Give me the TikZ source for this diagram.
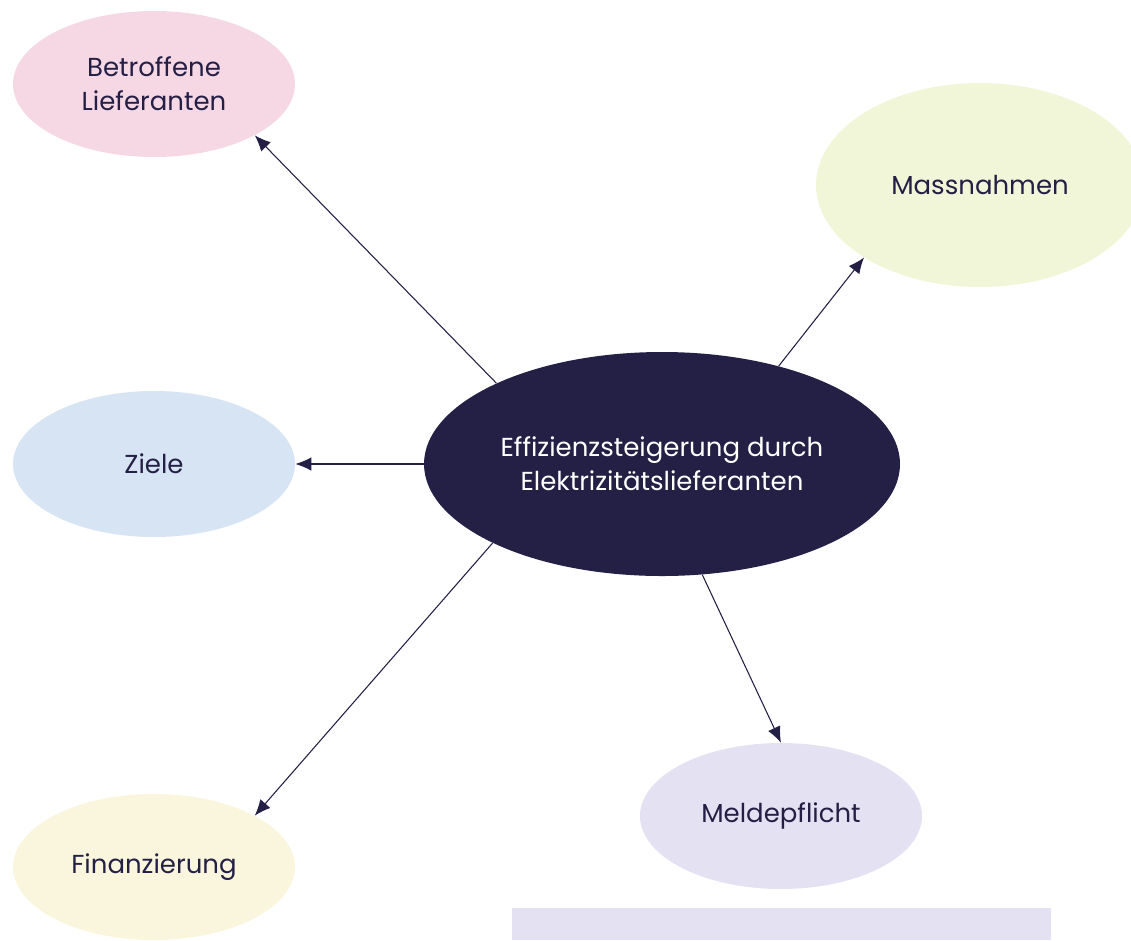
\documentclass[tikz,border=0pt]{standalone}
\usepackage{fontspec}
\setmainfont{Poppins}
\usetikzlibrary{arrows.meta,shapes.geometric}
\definecolor{navy}{HTML}{241F45}
\definecolor{pinkfill}{HTML}{F6D8E5}
\definecolor{greenfill}{HTML}{F1F6D8}
\definecolor{bluefill}{HTML}{D7E4F3}
\definecolor{yellowfill}{HTML}{FAF6DE}
\definecolor{lilacfill}{HTML}{E4E1F2}
\tikzset{
  topic/.style={ellipse, inner sep=0pt, minimum width=211.5pt, minimum height=109.5pt,
    text=navy, align=center, font=\fontsize{19.5}{25.5}\selectfont},
  link/.style={draw=navy, line width=0.8pt, -{Latex[length=12pt,width=10pt]}}
}
\begin{document}
\begin{tikzpicture}[x=0.75pt,y=-0.75pt]
        \clip (0,0) rectangle (1131,940);
        \node[topic, fill=navy, text=white, minimum width=357pt, minimum height=168pt] (core) at (662,464)
        {Effizienzsteigerung durch\\Elektrizitätslieferanten};
        \node[topic, fill=pinkfill] (betroffen) at (154,84) {Betroffene\\Lieferanten};
        \node[topic, fill=greenfill, minimum width=246pt, minimum height=153pt] (massnahmen) at (980,185) {Massnahmen};
        \node[topic, fill=bluefill] (ziele) at (154,464) {Ziele};
        \node[topic, fill=lilacfill] (melde) at (781,816) {Meldepflicht};
        \node[topic, fill=yellowfill] (finanz) at (154,867) {Finanzierung};
        \fill[lilacfill] (512,908) rectangle (1051,940);
        % connectors from the core
        \draw[link] (core.154.9) -- (betroffen.-27.7);
        \draw[link] (core.40.6) -- (massnahmen.212.4);
        \draw[link] (core.west) -- (ziele.east);
        \draw[link] (core.-70) -- (melde.north);
        \draw[link] (core.205.3) -- (finanz.27.2);
\end{tikzpicture}
\end{document}
